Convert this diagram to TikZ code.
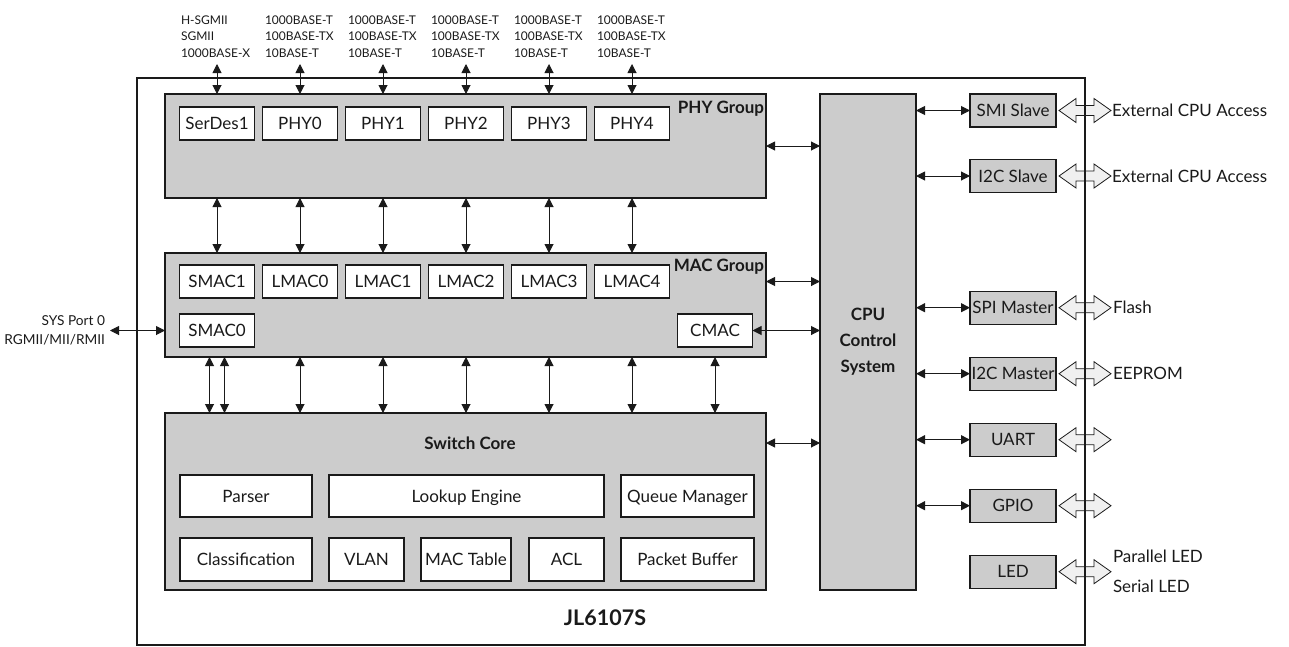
\documentclass[tikz,border=0pt]{standalone}
\usepackage{fontspec}
\setmainfont{Lato}
\usetikzlibrary{arrows.meta,calc}
\definecolor{boxgray}{HTML}{CCCCCC}
\definecolor{arrfill}{HTML}{F0F0F0}
\definecolor{ink}{HTML}{1A1A1A}
\newcommand\fatarr[1]{\draw[fat] ([xshift=3pt]#1.east) -- ++(17,-12) -- ++(0,7) -- ++(18,0) -- ++(0,-7) -- ++(17,12) -- ++(-17,12) -- ++(0,-7) -- ++(-18,0) -- ++(0,7) -- cycle;}
\begin{document}
\begin{tikzpicture}[x=1pt,y=-1pt,
  every node/.style={inner sep=0pt, outer sep=0pt, text=ink},
  grp/.style={draw=ink, fill=boxgray, line width=1.3pt},
  txt/.style={font=\fontsize{17}{20}\selectfont, text height=12.3pt, text depth=0pt},
  wbox/.style={txt, draw=ink, fill=white, line width=1.3pt, minimum width=75pt, minimum height=33pt},
  sbox/.style={txt, draw=ink, fill=white, line width=1.3pt, minimum height=42pt},
  iobox/.style={txt, draw=ink, fill=boxgray, line width=1.3pt, minimum width=86pt, minimum height=33pt},
  bi/.style={draw=ink, line width=1pt, {Triangle[length=9pt,width=9pt]}-{Triangle[length=9pt,width=9pt]}},
  bold/.style={font=\bfseries\fontsize{17}{20}\selectfont, text height=12.3pt, text depth=0pt},
  toplbl/.style={anchor=north west, align=left, font=\fontsize{12}{16.5}\selectfont},
  fat/.style={draw=ink, fill=arrfill, line width=0.8pt, line join=miter},
]
\useasboundingbox (0,0) rectangle (1289,646);

% groups
\node[grp, minimum width=601pt, minimum height=104pt] (phygrp) at (465.5,146) {};
\node[grp, minimum width=601pt, minimum height=104pt] (macgrp) at (465.5,305) {};
\node[grp, minimum width=601pt, minimum height=177pt] (sw) at (465.5,501.5) {};
\node[grp, minimum width=96pt, minimum height=496pt, align=center, font=\bfseries\fontsize{17}{26}\selectfont] (cpu) at (868,342) {CPU\\Control\\System};

\node[bold, anchor=east] (phylbl) at (764,107) {PHY Group};
\node[bold, anchor=east] (maclbl) at (764,265) {MAC Group};
\node[bold] (swlbl) at (470,443) {Switch Core};
\node[font=\bfseries\fontsize{21.5}{25}\selectfont, text height=15.5pt, text depth=0pt] (chiplbl) at (605,618) {JL6107S};

% PHY boxes
\node[wbox] (serdes) at (217,123.5) {SerDes1};
\node[wbox] (phy0) at (300,123.5) {PHY0};
\node[wbox] (phy1) at (383,123.5) {PHY1};
\node[wbox] (phy2) at (466,123.5) {PHY2};
\node[wbox] (phy3) at (549,123.5) {PHY3};
\node[wbox] (phy4) at (632,123.5) {PHY4};

% MAC boxes
\node[wbox] (smac1) at (217,281.5) {SMAC1};
\node[wbox] (lmac0) at (300,281.5) {LMAC0};
\node[wbox] (lmac1) at (383,281.5) {LMAC1};
\node[wbox] (lmac2) at (466,281.5) {LMAC2};
\node[wbox] (lmac3) at (549,281.5) {LMAC3};
\node[wbox] (lmac4) at (632,281.5) {LMAC4};
\node[wbox] (smac0) at (217,330.5) {SMAC0};
\node[wbox] (cmac) at (715,330.5) {CMAC};

% switch core boxes
\node[sbox, minimum width=132pt] (parser) at (246,496) {Parser};
\node[sbox, minimum width=275pt] (lookup) at (466.5,496) {Lookup Engine};
\node[sbox, minimum width=133pt] (queue) at (687.5,496) {Queue Manager};
\node[sbox, minimum width=132pt, minimum height=43pt] (class) at (246,559.5) {Classification};
\node[sbox, minimum width=75pt, minimum height=43pt] (vlan) at (366.5,559.5) {VLAN};
\node[sbox, minimum width=90pt, minimum height=43pt] (mactab) at (466,559.5) {MAC Table};
\node[sbox, minimum width=75pt, minimum height=43pt] (acl) at (566.5,559.5) {ACL};
\node[sbox, minimum width=133pt, minimum height=43pt] (pbuf) at (687.5,559.5) {Packet Buffer};

% top labels and arrows
\node[toplbl] (t0) at (181,15.5) {H-SGMII\\SGMII\\1000BASE-X};
\foreach \i/\x in {1/265,2/348,3/431,4/514,5/597}{
  \node[toplbl] (t\i) at (\x,15.5) {1000BASE-T\\100BASE-TX\\10BASE-T};
}
\foreach \b in {serdes,phy0,phy1,phy2,phy3,phy4}{
  \coordinate (top-\b) at ($(\b)+(0,-59.5)$);
  \draw[bi] (top-\b) -- (top-\b |- phygrp.north);
}
% PHY <-> MAC
\foreach \b in {serdes,phy0,phy1,phy2,phy3,phy4}{
  \draw[bi] (\b |- phygrp.south) -- (\b |- macgrp.north);
}
% MAC <-> Switch core
\coordinate (s0a) at ($(smac0)+(-7.5,0)$);
\coordinate (s0b) at ($(smac0)+(7.5,0)$);
\foreach \b in {s0a,s0b,lmac0,lmac1,lmac2,lmac3,lmac4,cmac}{
  \draw[bi] (\b |- macgrp.south) -- (\b |- sw.north);
}

% SYS port
\node[anchor=east, align=right, font=\fontsize{13.7}{19}\selectfont] (sys) at (105,330) {SYS Port 0\\RGMII/MII/RMII};
\coordinate (sysend) at (110,330.5);
\draw[bi] (sysend) -- (sysend -| macgrp.west);

% to CPU
\draw[bi] (phygrp.east) -- (phygrp.east -| cpu.west);
\draw[bi] (macgrp.east |- lmac4) -- (cpu.west |- lmac4);
\draw[bi] (cmac.east) -- (cmac.east -| cpu.west);
\draw[bi] (sw.east |- swlbl) -- (cpu.west |- swlbl);

% IO boxes
\node[iobox] (smi) at (1013,110.5) {SMI Slave};
\node[iobox] (i2cs) at (1013,176) {I2C Slave};
\node[iobox] (spi) at (1013,307.7) {SPI Master};
\node[iobox] (i2cm) at (1013,373.7) {I2C Master};
\node[iobox] (uart) at (1013,439.7) {UART};
\node[iobox] (gpio) at (1013,505.7) {GPIO};
\node[iobox] (led) at (1013,571.7) {LED};
\foreach \b in {smi,i2cs,spi,i2cm,uart,gpio}{
  \draw[bi] (cpu.east |- \b) -- (\b.west);
}
\foreach \b in {smi,i2cs,spi,i2cm,uart,gpio,led}{
  \fatarr{\b}
}

\node[txt, anchor=west] (ext1) at (1112,110.5) {External CPU Access};
\node[txt, anchor=west] (ext2) at (1112,176) {External CPU Access};
\node[txt, anchor=west] (flash) at (1113,307.7) {Flash};
\node[txt, anchor=west] (eeprom) at (1113,373.7) {EEPROM};
\node[txt, anchor=west] (pled) at (1113,556.7) {Parallel LED};
\node[txt, anchor=west] (sled) at (1113,586) {Serial LED};

% chip outline
\node[draw=ink, line width=1.5pt, minimum width=948pt, minimum height=567pt] (chip) at (611,361.5) {};
\end{tikzpicture}
\end{document}
